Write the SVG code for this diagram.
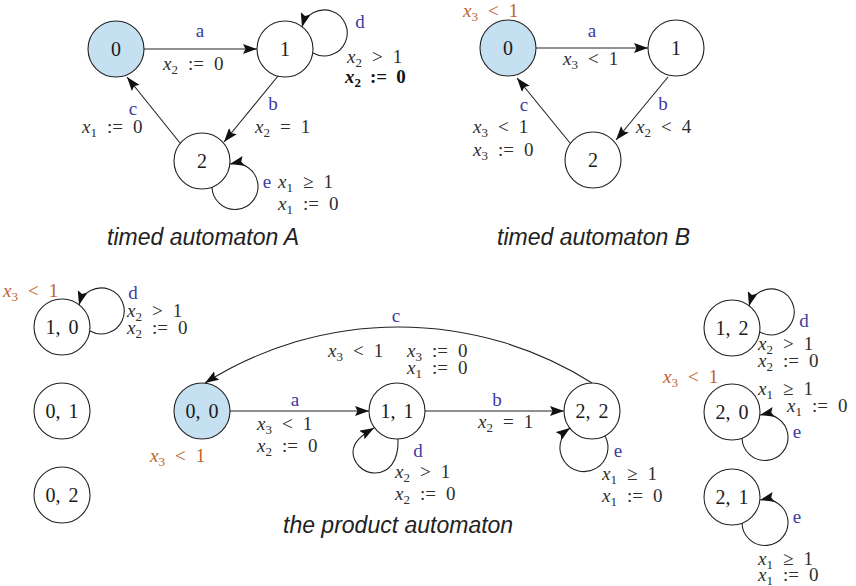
<svg xmlns="http://www.w3.org/2000/svg" width="856" height="586" viewBox="0 0 856 586">
<style>
.nd circle{fill:#fff;stroke:#222;stroke-width:1.1}
.nd.init circle{fill:#c4e0f1}
.nd text{font-family:"Liberation Serif",serif;font-size:20px;fill:#1a1a1a;text-anchor:middle;word-spacing:3px}
.e{fill:none;stroke:#222;stroke-width:1.1;marker-end:url(#ah)}
.m{font-family:"Liberation Serif",serif;font-size:19px;fill:#2e2e2e}
.m .v{font-style:italic}
.m .s{font-size:13px}
.bd{font-weight:bold;fill:#111}
.inv{fill:#c0622a}
.l{font-family:"Liberation Serif",serif;font-size:19px;fill:#3b3ba0;text-anchor:middle}
.cap{font-family:"Liberation Sans",Arial,sans-serif;font-style:italic;font-size:23px;fill:#222}
</style>
<defs>
<marker id="ah" viewBox="0 0 14 10" refX="14" refY="5" markerWidth="14" markerHeight="10" markerUnits="userSpaceOnUse" orient="auto">
<path d="M0,0 L14,5 L0,10 L2.5,5 z" fill="#111"/>
</marker>
</defs>

<!-- Automaton A -->
<g id="A0" class="nd init"><circle cx="116" cy="49" r="28"/><text x="116" y="56">0</text></g>
<g id="A1" class="nd"><circle cx="285" cy="49" r="28"/><text x="285" y="56">1</text></g>
<g id="A2" class="nd"><circle cx="202" cy="161" r="28"/><text x="202" y="168">2</text></g>

<!-- Automaton B -->
<g id="B0" class="nd init"><circle cx="508" cy="48" r="28"/><text x="508" y="55">0</text></g>
<g id="B1" class="nd"><circle cx="676" cy="48" r="28"/><text x="676" y="55">1</text></g>
<g id="B2" class="nd"><circle cx="593" cy="160" r="28"/><text x="593" y="167">2</text></g>

<!-- Product -->
<g id="P10" class="nd"><circle cx="62" cy="327" r="28"/><text x="62" y="334">1, 0</text></g>
<g id="P01" class="nd"><circle cx="62" cy="411" r="28"/><text x="62" y="418">0, 1</text></g>
<g id="P02" class="nd"><circle cx="62" cy="495" r="28"/><text x="62" y="502">0, 2</text></g>
<g id="P00" class="nd init"><circle cx="202" cy="411" r="28"/><text x="202" y="418">0, 0</text></g>
<g id="P11" class="nd"><circle cx="397" cy="411" r="28"/><text x="397" y="418">1, 1</text></g>
<g id="P22" class="nd"><circle cx="592" cy="411" r="28"/><text x="592" y="418">2, 2</text></g>
<g id="P12" class="nd"><circle cx="732" cy="328" r="28"/><text x="732" y="335">1, 2</text></g>
<g id="P20" class="nd"><circle cx="732" cy="412" r="28"/><text x="732" y="419">2, 0</text></g>
<g id="P21" class="nd"><circle cx="732" cy="497" r="28"/><text x="732" y="504">2, 1</text></g>

<g id="connectors">
<!-- A -->
<path class="e" d="M144,49 L257,49"/>
<path class="e" d="M313,53 A23 23 0 1 0 302,27"/>
<path class="e" d="M278,76 L224,142"/>
<path class="e" d="M180,143 L127,77"/>
<path class="e" d="M212,187 A23 23 0 1 0 230,164"/>
<!-- B -->
<path class="e" d="M536,48 L648,48"/>
<path class="e" d="M668,77 L616,140"/>
<path class="e" d="M570,143 L517,78"/>
<!-- Product -->
<path class="e" d="M90,331 A23 23 0 1 0 79,305"/>
<path class="e" d="M230,411 L369,411"/>
<path class="e" d="M425,411 L564,411"/>
<path class="e" d="M592,383 A362 362 0 0 0 205,383"/>
<path class="e" d="M398,439 C399,462 388,473 375,473 C362,473 353,462 353,452 C353,442 362,435 374,428"/>
<path class="e" d="M605,436 A24 24 0 1 1 570,428"/>
<path class="e" d="M760,332 A23 23 0 1 0 749,306"/>
<path class="e" d="M742,438 A23 23 0 1 0 760,415"/>
<path class="e" d="M742,523 A23 23 0 1 0 760,500"/>
</g>

<g id="labels">
<!-- A labels -->
<text class="l" x="200" y="37">a</text>
<text class="m" x="163" y="70"><tspan class="v">x</tspan><tspan class="s" dy="3.5">2</tspan><tspan dy="-3.5" dx="10">:=</tspan><tspan dx="10">0</tspan></text>
<text class="l" x="360" y="28">d</text>
<text class="m" x="347" y="63"><tspan class="v">x</tspan><tspan class="s" dy="3.5">2</tspan><tspan dy="-3.5" dx="10">&gt;</tspan><tspan dx="10">1</tspan></text>
<text class="m bd" x="345" y="83"><tspan class="v">x</tspan><tspan class="s" dy="3.5">2</tspan><tspan dy="-3.5" dx="9">:=</tspan><tspan dx="9">0</tspan></text>
<text class="l" x="273" y="110">b</text>
<text class="m" x="255" y="133"><tspan class="v">x</tspan><tspan class="s" dy="3.5">2</tspan><tspan dy="-3.5" dx="10">=</tspan><tspan dx="10">1</tspan></text>
<text class="l" x="133" y="115">c</text>
<text class="m" x="82" y="133"><tspan class="v">x</tspan><tspan class="s" dy="3.5">1</tspan><tspan dy="-3.5" dx="10">:=</tspan><tspan dx="10">0</tspan></text>
<text class="l" x="267" y="188">e</text>
<text class="m" x="278" y="188"><tspan class="v">x</tspan><tspan class="s" dy="3.5">1</tspan><tspan dy="-3.5" dx="10">≥</tspan><tspan dx="10">1</tspan></text>
<text class="m" x="278" y="210"><tspan class="v">x</tspan><tspan class="s" dy="3.5">1</tspan><tspan dy="-3.5" dx="10">:=</tspan><tspan dx="10">0</tspan></text>
<text class="cap" x="107" y="245">timed automaton A</text>

<!-- B labels -->
<text class="m inv" x="463" y="17"><tspan class="v">x</tspan><tspan class="s" dy="3.5">3</tspan><tspan dy="-3.5" dx="10">&lt;</tspan><tspan dx="10">1</tspan></text>
<text class="l" x="592" y="37">a</text>
<text class="m" x="563" y="65"><tspan class="v">x</tspan><tspan class="s" dy="3.5">3</tspan><tspan dy="-3.5" dx="10">&lt;</tspan><tspan dx="10">1</tspan></text>
<text class="l" x="663" y="110">b</text>
<text class="m" x="636" y="133"><tspan class="v">x</tspan><tspan class="s" dy="3.5">2</tspan><tspan dy="-3.5" dx="10">&lt;</tspan><tspan dx="10">4</tspan></text>
<text class="l" x="524" y="111">c</text>
<text class="m" x="473" y="133"><tspan class="v">x</tspan><tspan class="s" dy="3.5">3</tspan><tspan dy="-3.5" dx="10">&lt;</tspan><tspan dx="10">1</tspan></text>
<text class="m" x="473" y="156"><tspan class="v">x</tspan><tspan class="s" dy="3.5">3</tspan><tspan dy="-3.5" dx="10">:=</tspan><tspan dx="10">0</tspan></text>
<text class="cap" x="497" y="245">timed automaton B</text>

<!-- Product labels -->
<text class="m inv" x="3" y="297"><tspan class="v">x</tspan><tspan class="s" dy="3.5">3</tspan><tspan dy="-3.5" dx="10">&lt;</tspan><tspan dx="10">1</tspan></text>
<text class="l" x="133" y="299">d</text>
<text class="m" x="127" y="317"><tspan class="v">x</tspan><tspan class="s" dy="3.5">2</tspan><tspan dy="-3.5" dx="10">&gt;</tspan><tspan dx="10">1</tspan></text>
<text class="m" x="127" y="334"><tspan class="v">x</tspan><tspan class="s" dy="3.5">2</tspan><tspan dy="-3.5" dx="10">:=</tspan><tspan dx="10">0</tspan></text>
<text class="m inv" x="150" y="462"><tspan class="v">x</tspan><tspan class="s" dy="3.5">3</tspan><tspan dy="-3.5" dx="10">&lt;</tspan><tspan dx="10">1</tspan></text>
<text class="l" x="295" y="406">a</text>
<text class="m" x="257" y="430"><tspan class="v">x</tspan><tspan class="s" dy="3.5">3</tspan><tspan dy="-3.5" dx="10">&lt;</tspan><tspan dx="10">1</tspan></text>
<text class="m" x="257" y="452"><tspan class="v">x</tspan><tspan class="s" dy="3.5">2</tspan><tspan dy="-3.5" dx="10">:=</tspan><tspan dx="10">0</tspan></text>
<text class="l" x="396" y="322">c</text>
<text class="m" x="328" y="357"><tspan class="v">x</tspan><tspan class="s" dy="3.5">3</tspan><tspan dy="-3.5" dx="10">&lt;</tspan><tspan dx="10">1</tspan></text>
<text class="m" x="407" y="357"><tspan class="v">x</tspan><tspan class="s" dy="3.5">3</tspan><tspan dy="-3.5" dx="10">:=</tspan><tspan dx="10">0</tspan></text>
<text class="m" x="407" y="374"><tspan class="v">x</tspan><tspan class="s" dy="3.5">1</tspan><tspan dy="-3.5" dx="10">:=</tspan><tspan dx="10">0</tspan></text>
<text class="l" x="418" y="457">d</text>
<text class="m" x="395" y="478"><tspan class="v">x</tspan><tspan class="s" dy="3.5">2</tspan><tspan dy="-3.5" dx="10">&gt;</tspan><tspan dx="10">1</tspan></text>
<text class="m" x="395" y="500"><tspan class="v">x</tspan><tspan class="s" dy="3.5">2</tspan><tspan dy="-3.5" dx="10">:=</tspan><tspan dx="10">0</tspan></text>
<text class="l" x="497" y="406">b</text>
<text class="m" x="478" y="428"><tspan class="v">x</tspan><tspan class="s" dy="3.5">2</tspan><tspan dy="-3.5" dx="10">=</tspan><tspan dx="10">1</tspan></text>
<text class="l" x="618" y="457">e</text>
<text class="m" x="602" y="480"><tspan class="v">x</tspan><tspan class="s" dy="3.5">1</tspan><tspan dy="-3.5" dx="10">≥</tspan><tspan dx="10">1</tspan></text>
<text class="m" x="602" y="502"><tspan class="v">x</tspan><tspan class="s" dy="3.5">1</tspan><tspan dy="-3.5" dx="10">:=</tspan><tspan dx="10">0</tspan></text>
<text class="cap" x="283" y="533">the product automaton</text>

<!-- Right column labels -->
<text class="l" x="804" y="327">d</text>
<text class="m" x="758" y="350"><tspan class="v">x</tspan><tspan class="s" dy="3.5">2</tspan><tspan dy="-3.5" dx="10">&gt;</tspan><tspan dx="10">1</tspan></text>
<text class="m" x="758" y="367"><tspan class="v">x</tspan><tspan class="s" dy="3.5">2</tspan><tspan dy="-3.5" dx="10">:=</tspan><tspan dx="10">0</tspan></text>
<text class="m inv" x="663" y="383"><tspan class="v">x</tspan><tspan class="s" dy="3.5">3</tspan><tspan dy="-3.5" dx="10">&lt;</tspan><tspan dx="10">1</tspan></text>
<text class="m" x="758" y="395"><tspan class="v">x</tspan><tspan class="s" dy="3.5">1</tspan><tspan dy="-3.5" dx="10">≥</tspan><tspan dx="10">1</tspan></text>
<text class="m" x="787" y="412"><tspan class="v">x</tspan><tspan class="s" dy="3.5">1</tspan><tspan dy="-3.5" dx="10">:=</tspan><tspan dx="10">0</tspan></text>
<text class="l" x="797" y="438">e</text>
<text class="l" x="797" y="523">e</text>
<text class="m" x="758" y="565"><tspan class="v">x</tspan><tspan class="s" dy="3.5">1</tspan><tspan dy="-3.5" dx="10">≥</tspan><tspan dx="10">1</tspan></text>
<text class="m" x="758" y="581"><tspan class="v">x</tspan><tspan class="s" dy="3.5">1</tspan><tspan dy="-3.5" dx="10">:=</tspan><tspan dx="10">0</tspan></text>
</g>
</svg>
